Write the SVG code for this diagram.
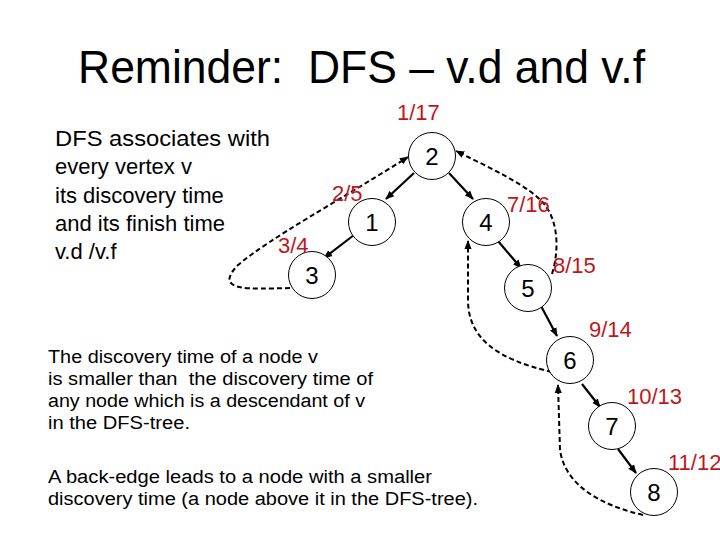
<svg xmlns="http://www.w3.org/2000/svg" width="720" height="540" viewBox="0 0 720 540">
<defs>
<marker id="ahs" viewBox="0 0 10 10" refX="9" refY="5" markerWidth="9" markerHeight="9" orient="auto" markerUnits="userSpaceOnUse">
<path d="M0,1 L10,5 L0,9 z" fill="#000"/>
</marker>
</defs>
<style>
text{font-family:"Liberation Sans",Arial,sans-serif;white-space:pre;}
.node circle{fill:#fff;stroke:#000;stroke-width:1;}
.node text{font-size:24px;fill:#000;text-anchor:middle;}
.lbl{font-size:22px;fill:#c0161b;}
.tree{stroke:#000;stroke-width:2.2;fill:none;marker-end:url(#ahs);}
.back{stroke:#000;stroke-width:2;fill:none;stroke-dasharray:5 3;marker-end:url(#ahs);}
.body{font-size:22px;fill:#000;}
.small{font-size:18px;fill:#000;}
</style>
<rect width="720" height="540" fill="#fff"/>
<text x="78" y="83" font-size="46" textLength="567" lengthAdjust="spacingAndGlyphs">Reminder:&#160; DFS – v.d and v.f</text>
<g id="intro" class="body">
<text x="55" y="146" textLength="215" lengthAdjust="spacingAndGlyphs">DFS associates with</text>
<text x="55" y="174">every vertex v</text>
<text x="55" y="203">its discovery time</text>
<text x="55" y="231">and its finish time</text>
<text x="55" y="259">v.d /v.f</text>
</g>
<g id="notes" class="small">
<text x="48" y="363" textLength="270" lengthAdjust="spacingAndGlyphs">The discovery time of a node v</text>
<text x="48" y="385" textLength="325" lengthAdjust="spacingAndGlyphs">is smaller than&#160; the discovery time of</text>
<text x="48" y="407" textLength="317" lengthAdjust="spacingAndGlyphs">any node which is a descendant of v</text>
<text x="48" y="429" textLength="142" lengthAdjust="spacingAndGlyphs">in the DFS-tree.</text>
<text x="48" y="483" textLength="384" lengthAdjust="spacingAndGlyphs">A back-edge leads to a node with a smaller</text>
<text x="48" y="505" textLength="430" lengthAdjust="spacingAndGlyphs">discovery time (a node above it in the DFS-tree).</text>
</g>
<g id="connectors">
<line class="tree" x1="414" y1="173" x2="386" y2="199"/>
<line class="tree" x1="354" y1="235" x2="324" y2="258"/>
<line class="tree" x1="449" y1="173" x2="473" y2="199"/>
<line class="tree" x1="498" y1="241" x2="521" y2="268"/>
<line class="tree" x1="541" y1="306" x2="557" y2="336"/>
<line class="tree" x1="582" y1="384" x2="600" y2="407"/>
<line class="tree" x1="618" y1="449" x2="636" y2="473"/>
<path class="back" d="M290,288 C250,289 212,292 238,265 C270,238 340,200 408,157"/>
<path class="back" d="M552,274 C558,255 560,225 545,205 C530,186 490,168 456,151"/>
<path class="back" d="M552,372 C500,360 468,340 468,300 L468,241"/>
<path class="back" d="M643,515 C600,505 565,485 560,450 L558,385"/>
</g>
<g id="n2" class="node"><circle cx="432" cy="156" r="23.5"/><text x="432" y="165">2</text></g>
<g id="n1" class="node"><circle cx="372" cy="222" r="23.5"/><text x="372" y="231">1</text></g>
<g id="n3" class="node"><circle cx="312" cy="275" r="23.5"/><text x="312" y="284">3</text></g>
<g id="n4" class="node"><circle cx="486" cy="222" r="23.5"/><text x="486" y="231">4</text></g>
<g id="n5" class="node"><circle cx="528" cy="288" r="23.5"/><text x="528" y="297">5</text></g>
<g id="n6" class="node"><circle cx="570" cy="360" r="23.5"/><text x="570" y="369">6</text></g>
<g id="n7" class="node"><circle cx="612" cy="426" r="23.5"/><text x="612" y="435">7</text></g>
<g id="n8" class="node"><circle cx="654" cy="492" r="23.5"/><text x="654" y="501">8</text></g>
<g id="labels" class="lbl">
<text x="397" y="120">1/17</text>
<text x="332" y="201">2/5</text>
<text x="278" y="253">3/4</text>
<text x="507" y="212">7/16</text>
<text x="553" y="273">8/15</text>
<text x="589" y="337">9/14</text>
<text x="627" y="404">10/13</text>
<text x="668" y="470">11/12</text>
</g>
</svg>
